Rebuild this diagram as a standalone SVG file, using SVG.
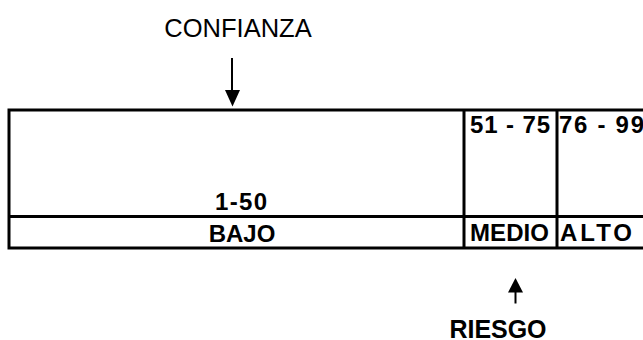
<svg xmlns="http://www.w3.org/2000/svg" width="643" height="340" viewBox="0 0 643 340">
  <style>
    .rule { stroke: #000; stroke-width: 3; fill: none; }
    .arrow { stroke: #000; stroke-width: 2; fill: none; }
    .head { fill: #000; }
    .label { font-family: "Liberation Sans", Arial, sans-serif; fill: #000; }
    .plain { font-size: 25.5px; }
    .bold { font-size: 24px; font-weight: bold; }
    .big { font-size: 25px; font-weight: bold; }
  </style>
  <rect width="643" height="340" fill="#fff"/>

  <!-- scale table -->
  <g id="table">
    <path class="rule" d="M9 110 H643 M9 216.5 H643 M9 248 H643 M9 108.5 V249.5 M464 110 V249.5 M557 110 V249.5"/>
  </g>

  <g id="bajo">
    <text class="label bold" x="241" y="210" text-anchor="middle" textLength="52" lengthAdjust="spacing">1-50</text>
    <text class="label bold" x="242" y="241.5" text-anchor="middle">BAJO</text>
  </g>

  <g id="medio">
    <text class="label bold" x="470" y="133" style="white-space:pre" textLength="80" lengthAdjust="spacing">51 - 75</text>
    <text class="label bold" x="470" y="240.5" textLength="79" lengthAdjust="spacing">MEDIO</text>
  </g>

  <g id="alto">
    <text class="label bold" x="559" y="133" style="white-space:pre" textLength="85" lengthAdjust="spacing">76 - 99</text>
    <text class="label bold" x="560" y="240.5" textLength="72" lengthAdjust="spacing">ALTO</text>
  </g>

  <g id="confianza">
    <text class="label plain" x="238" y="37" text-anchor="middle">CONFIANZA</text>
  </g>

  <g id="riesgo">
    <text class="label big" x="498" y="338" text-anchor="middle" textLength="97" lengthAdjust="spacing">RIESGO</text>
  </g>

  <!-- connectors -->
  <g id="connectors">
    <line class="arrow" x1="232" y1="58" x2="232" y2="92"/>
    <polygon class="head" points="225,90 240,90 232.5,106.5"/>
    <line class="arrow" x1="515.5" y1="290" x2="515.5" y2="303.5"/>
    <polygon class="head" points="508,292.5 523,292.5 515.5,278"/>
  </g>
</svg>
